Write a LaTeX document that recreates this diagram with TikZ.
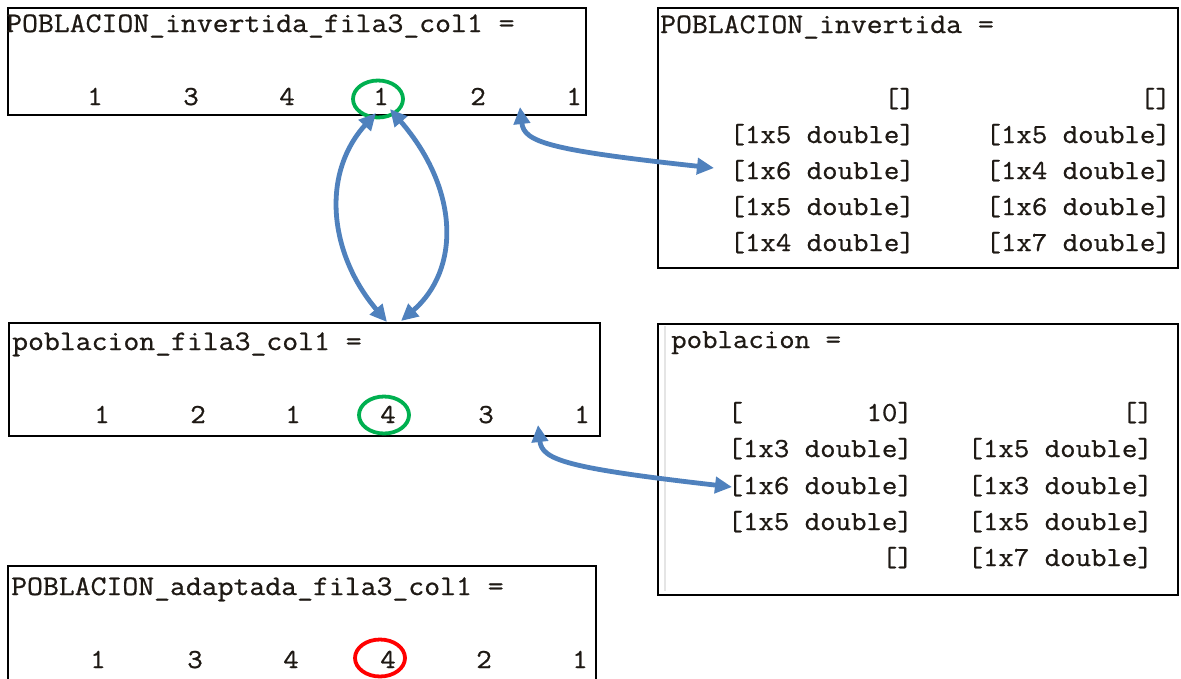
\documentclass[tikz,border=0pt]{standalone}
\usepackage{fontspec}
\setmonofont{Latin Modern Mono}[FakeStretch=1.09, FakeBold=0.8]
\usetikzlibrary{arrows.meta,shapes.geometric}
\definecolor{txt}{RGB}{30,25,20}
\definecolor{arrowblue}{RGB}{79,129,189}
\definecolor{ringgreen}{RGB}{0,176,80}
\definecolor{ringred}{RGB}{255,0,0}

\begin{document}
\begin{tikzpicture}[x=1pt,y=-1pt,
  panel/.style={draw=black, line width=1.6pt, inner sep=0, anchor=north west},
  mono/.style={font=\ttfamily\fontsize{27.5}{32}\selectfont, text=txt, inner sep=0},
  title/.style={mono, font=\ttfamily\fontsize{28.3}{32}\selectfont, anchor=base west},
  shorttitle/.style={mono, anchor=base west},
  num/.style={mono, anchor=base},
  cell/.style={mono, anchor=base east},
  ring/.style={ellipse, draw=#1, line width=3.8pt, minimum width=50pt, minimum height=37pt, inner sep=0},
  link/.style={draw=arrowblue, line width=4.8pt, line cap=round,
    {Triangle[length=17pt,width=16pt]}-{Triangle[length=17pt,width=16pt]}}]

\fill[white] (0,0) rectangle (1181,678);
\useasboundingbox (0,0) rectangle (1181,678);

% ---- panels ----
\node[panel, minimum width=578pt, minimum height=107pt] (boxA) at (7,7) {};
\node[panel, minimum width=520pt, minimum height=260pt] (boxB) at (657,7) {};
\node[panel, minimum width=591pt, minimum height=113pt] (boxC) at (8,322) {};
\node[panel, minimum width=520pt, minimum height=271pt] (boxD) at (657,323) {};
\draw[gray!20, line width=2pt] (665,326) -- (665,591);
\draw[black, line width=1.6pt] (8,679) -- (8,566) -- (596,566) -- (596,679);

% ---- POBLACION_invertida_fila3_col1 ----
\node[title] (tA) at (6,32) {POBLACION\_invertida\_fila3\_col1 =};
\node[num] (a1) at (95,105) {1};
\node[num] (a2) at (191,105) {3};
\node[num] (a3) at (287,105) {4};
\node[num] (a4) at (381,105) {1};
\node[num] (a5) at (478,105) {2};
\node[num] (a6) at (574,105) {1};

% ---- POBLACION_invertida ----
\node[title] (tB) at (660,33) {POBLACION\_invertida =};
\node[cell] (b11) at (915,107) {[]};
\node[cell] (b12) at (1171,107) {[]};
\node[cell] (b21) at (915,143) {[1x5 double]};
\node[cell] (b22) at (1171,143) {[1x5 double]};
\node[cell] (b31) at (915,179) {[1x6 double]};
\node[cell] (b32) at (1171,179) {[1x4 double]};
\node[cell] (b41) at (915,215) {[1x5 double]};
\node[cell] (b42) at (1171,215) {[1x6 double]};
\node[cell] (b51) at (915,251) {[1x4 double]};
\node[cell] (b52) at (1171,251) {[1x7 double]};

% ---- poblacion_fila3_col1 ----
\node[title] (tC) at (12,350) {poblacion\_fila3\_col1 =};
\node[num] (c1) at (102,423) {1};
\node[num] (c2) at (198,423) {2};
\node[num] (c3) at (293,423) {1};
\node[num] (c4) at (388,423) {4};
\node[num] (c5) at (486,423) {3};
\node[num] (c6) at (582,423) {1};

% ---- poblacion ----
\node[shorttitle] (tD) at (671,348) {poblacion =};
\node[cell] (d11) at (913,421) {[~~~~~~~~10]};
\node[cell] (d12) at (1153,421) {[]};
\node[cell] (d21) at (913,457) {[1x3 double]};
\node[cell] (d22) at (1153,457) {[1x5 double]};
\node[cell] (d31) at (913,494) {[1x6 double]};
\node[cell] (d32) at (1153,494) {[1x3 double]};
\node[cell] (d41) at (913,530) {[1x5 double]};
\node[cell] (d42) at (1153,530) {[1x5 double]};
\node[cell] (d51) at (913,566) {[]};
\node[cell] (d52) at (1153,566) {[1x7 double]};

% ---- POBLACION_adaptada_fila3_col1 ----
\node[title] (tE) at (11,595) {POBLACION\_adaptada\_fila3\_col1 =};
\node[num] (e1) at (98,668) {1};
\node[num] (e2) at (195,668) {3};
\node[num] (e3) at (291,668) {4};
\node[num] (e4) at (388,668) {4};
\node[num] (e5) at (484,668) {2};
\node[num] (e6) at (580,668) {1};

% ---- highlighted entries ----
\node[ring=ringgreen] (ringA) at (378,99) {};
\node[ring=ringgreen] (ringC) at (384,415) {};
\node[ring=ringred] (ringE) at (380,658) {};

% ---- connector end points ----
\coordinate (pA) at (520,107);
\coordinate (pB) at (714,168);
\coordinate (pC) at (538,425);
\coordinate (pD) at (732,487);
\coordinate (upL) at (376,113);
\coordinate (upR) at (390,109);
\coordinate (dnL) at (387,322);
\coordinate (dnR) at (401,321);

% ---- connectors ----
\draw[link] (pA) .. controls (524,142) and (548,150) .. (pB);
\draw[link] (pC) .. controls (542,460) and (566,468) .. (pD);
\draw[link] (upL) .. controls (320,175) and (330,255) .. (dnL);
\draw[link] (upR) .. controls (460,190) and (460,270) .. (dnR);
\end{tikzpicture}
\end{document}
